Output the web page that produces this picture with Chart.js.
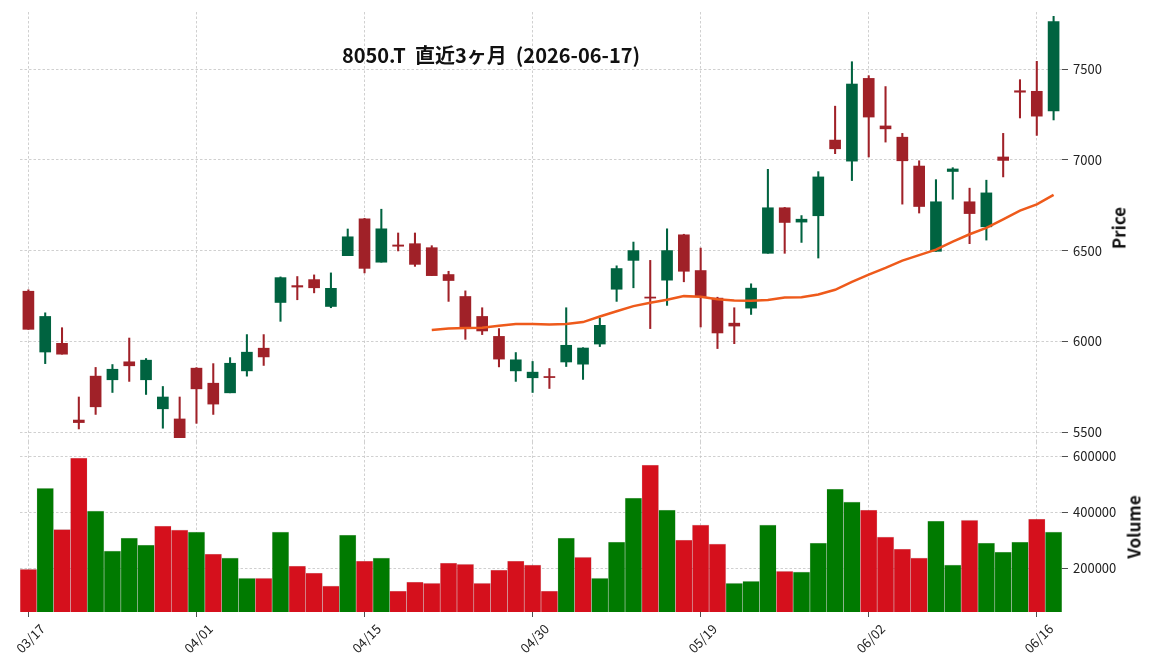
<!DOCTYPE html>
<html>
<head>
<meta charset="utf-8">
<script src="https://cdn.jsdelivr.net/npm/chart.js@4.4.1/dist/chart.umd.min.js"></script>
<style>
    body { margin: 0; background: #fff; }
    #wrap { position: relative; width: 1152px; height: 670px; font-family: "Noto Sans CJK JP", sans-serif; color: #111; }
    #priceChart { position: absolute; left: 0; top: 0; }
    #volumeChart { position: absolute; left: 0; top: 442px; }
    #title { position: absolute; left: 291px; top: 42px; width: 400px; text-align: center; font-size: 20px; line-height: 26px; font-weight: bold; white-space: pre; }
    .axisTitle { position: absolute; font-size: 17px; font-weight: bold; white-space: nowrap; transform: translate(-50%, -50%) rotate(-90deg); }
</style>
</head>
<body>
<div id="wrap">
    <canvas id="priceChart" width="1152" height="442"></canvas>
    <canvas id="volumeChart" width="1152" height="228"></canvas>
    <div id="title">8050.T  直近3ヶ月  (2026-06-17)</div>
    <div class="axisTitle" style="left:1118px; top:228px;">Price</div>
    <div class="axisTitle" style="left:1133px; top:527px;">Volume</div>
</div>
<script>
// trading days shown on the x axis
const dates = ['03/17', '03/18', '03/19', '03/23', '03/24', '03/25', '03/26', '03/27', '03/30', '03/31',
    '04/01', '04/02', '04/03', '04/06', '04/07', '04/08', '04/09', '04/10', '04/13', '04/14',
    '04/15', '04/16', '04/17', '04/20', '04/21', '04/22', '04/23', '04/24', '04/27', '04/28',
    '04/30', '05/01', '05/07', '05/08', '05/11', '05/12', '05/13', '05/14', '05/15', '05/18',
    '05/19', '05/20', '05/21', '05/22', '05/25', '05/26', '05/27', '05/28', '05/29', '06/01',
    '06/02', '06/03', '06/04', '06/05', '06/08', '06/09', '06/10', '06/11', '06/12', '06/15',
    '06/16', '06/17'];

const openPrices = [6276, 5941, 5989, 5566, 5808, 5788, 5887, 5788, 5628, 5572,
    5852, 5769, 5716, 5837, 5962, 6214, 6307, 6340, 6192, 6472,
    6675, 6436, 6531, 6538, 6516, 6368, 6247, 6137, 6027, 5837,
    5799, 5806, 5886, 5874, 5985, 6287, 6446, 6244, 6337, 6587,
    6390, 6238, 6100, 6183, 6485, 6736, 6657, 6692, 7109, 6993,
    7449, 7187, 7125, 6966, 6496, 6936, 6769, 6631, 7016, 7381,
    7378, 7270];
const highPrices = [6284, 6157, 6075, 5693, 5856, 5872, 6018, 5905, 5751, 5693,
    5855, 5877, 5910, 6037, 6037, 6355, 6357, 6366, 6377, 6619,
    6678, 6728, 6597, 6597, 6527, 6386, 6278, 6185, 6070, 5938,
    5889, 5850, 6185, 5965, 6128, 6416, 6547, 6446, 6620, 6590,
    6514, 6243, 6185, 6317, 6948, 6738, 6693, 6935, 7296, 7541,
    7464, 7404, 7146, 6995, 6891, 6957, 6844, 6888, 7146, 7442,
    7543, 7791];
const lowPrices = [6066, 5877, 5929, 5517, 5597, 5718, 5779, 5707, 5521, 5469,
    5548, 5597, 5716, 5808, 5867, 6110, 6229, 6267, 6185, 6472,
    6377, 6436, 6498, 6413, 6362, 6220, 6011, 6037, 5859, 5779,
    5718, 5740, 5861, 5790, 5971, 6220, 6295, 6070, 6198, 6328,
    6079, 5960, 5987, 6148, 6485, 6485, 6545, 6459, 7034, 6886,
    7016, 7098, 6756, 6707, 6496, 6783, 6538, 6558, 6906, 7231,
    7135, 7220];
const closePrices = [6066, 6137, 5929, 5552, 5639, 5846, 5865, 5896, 5693, 5469,
    5738, 5654, 5879, 5940, 5914, 6351, 6299, 6295, 6292, 6576,
    6402, 6620, 6524, 6424, 6362, 6335, 6077, 6057, 5902, 5898,
    5830, 5800, 5978, 5963, 6088, 6401, 6500, 6238, 6500, 6386,
    6247, 6046, 6084, 6293, 6736, 6655, 6673, 6906, 7061, 7418,
    7236, 7171, 6995, 6743, 6769, 6950, 6704, 6818, 6997, 7373,
    7241, 7762];

// moving average, starts on the 25th day
const movingAvg = [null, null, null, null, null, null, null, null, null, null,
    null, null, null, null, null, null, null, null, null, null,
    null, null, null, null, 6062, 6070, 6073, 6075, 6086, 6095,
    6095, 6093, 6095, 6106, 6137, 6166, 6194, 6212, 6229, 6249,
    6245, 6232, 6225, 6223, 6228, 6242, 6243, 6258, 6284, 6328,
    6368, 6405, 6445, 6475, 6505, 6550, 6590, 6625, 6672, 6720,
    6755, 6807];

const volumes = [196000, 485000, 338000, 593000, 404000, 261000, 307000, 282000, 350000, 336000,
    329000, 250000, 236000, 164000, 164000, 329000, 207000, 182000, 136000, 318000,
    225000, 236000, 118000, 150000, 146000, 218000, 214000, 146000, 193000, 225000,
    211000, 118000, 307000, 239000, 164000, 293000, 450000, 568000, 407000, 300000,
    354000, 286000, 146000, 153000, 354000, 189000, 186000, 289000, 482000, 436000,
    407000, 311000, 268000, 236000, 368000, 211000, 371000, 289000, 257000, 293000,
    375000, 329000];

const priceTickValues = [5500, 6000, 6500, 7000, 7500];
const volumeTickValues = [200000, 400000, 600000];
const priceRange = [5445, 7815];
const volumeRange = [43000, 650000];

const fontFamily = '"Noto Sans CJK JP", sans-serif';
const gridColor = '#c4c4c4';

// candles: up green, down red; volume: close vs previous close
const candleColors = closePrices.map((c, i) => c >= openPrices[i] ? '#006340' : '#a02128');
const volumeColors = closePrices.map((c, i) => {
    const ref = i === 0 ? openPrices[0] : closePrices[i - 1];
    return c >= ref ? '#007a00' : '#d5101c';
});

function xGridColor(ctx) {
    return ctx.index % 10 === 0 ? gridColor : 'rgba(0,0,0,0)';
}

function xTickColor(ctx) {
    return ctx.index % 10 === 0 ? '#222' : 'rgba(0,0,0,0)';
}

// no extra padding from tick labels, the plot areas are set by hand
function noPadding(scale) {
    scale.paddingTop = 0;
    scale.paddingBottom = 0;
    scale.paddingLeft = 0;
    scale.paddingRight = 0;
}

function yAxis(range, tickValues, fit) {
    return {
        position: 'right',
        min: range[0],
        max: range[1],
        afterBuildTicks: scale => { scale.ticks = tickValues.map(v => ({ value: v })); },
        ticks: {
            callback: v => String(v),
            font: { family: fontFamily, size: 13 },
            color: '#222',
            padding: 5
        },
        grid: { color: gridColor, lineWidth: 0.8, tickLength: 6, tickColor: '#222', tickBorderDash: [] },
        border: { display: false, dash: [2.5, 2] },
        afterFit: scale => { scale.width = fit; noPadding(scale); }
    };
}

function gerarGraficoPreco() {
    const ctx = document.getElementById('priceChart').getContext('2d');
    new Chart(ctx, {
        type: 'bar',
        data: {
            labels: dates,
            datasets: [{
                type: 'line',
                data: movingAvg,
                borderColor: '#ee5a1b',
                borderWidth: 2.5,
                pointRadius: 0,
                tension: 0,
                order: 0
            }, {
                data: openPrices.map((o, i) => [o, closePrices[i]]),
                backgroundColor: candleColors,
                barThickness: 11,
                grouped: false,
                order: 1
            }, {
                data: lowPrices.map((l, i) => [l, highPrices[i]]),
                backgroundColor: candleColors,
                barThickness: 1.4,
                grouped: false,
                order: 2
            }]
        },
        options: {
            responsive: false,
            animation: false,
            layout: { autoPadding: false, padding: { left: 20, top: 12, right: 0, bottom: 0 } },
            plugins: { legend: { display: false }, tooltip: { enabled: false } },
            scales: {
                x: {
                    type: 'category',
                    offset: true,
                    ticks: { display: false, autoSkip: false },
                    grid: { offset: false, color: xGridColor, lineWidth: 0.8, drawTicks: false },
                    border: { display: false, dash: [2.5, 2] },
                    afterFit: scale => { scale.height = 0; noPadding(scale); }
                },
                y: yAxis(priceRange, priceTickValues, 90)
            }
        }
    });
}

function gerarGraficoVolume() {
    const ctx = document.getElementById('volumeChart').getContext('2d');
    new Chart(ctx, {
        type: 'bar',
        data: {
            labels: dates,
            datasets: [{
                data: volumes,
                backgroundColor: volumeColors,
                borderColor: 'rgba(0,0,0,0.12)',
                borderWidth: 0.6,
                barPercentage: 1,
                categoryPercentage: 1
            }]
        },
        options: {
            responsive: false,
            animation: false,
            layout: { autoPadding: false, padding: { left: 20, top: 0, right: 0, bottom: 0 } },
            plugins: { legend: { display: false }, tooltip: { enabled: false } },
            scales: {
                x: {
                    type: 'category',
                    offset: true,
                    ticks: {
                        autoSkip: false,
                        minRotation: 45,
                        maxRotation: 45,
                        labelOffset: 14,
                        padding: 4,
                        font: { family: fontFamily, size: 13 },
                        color: '#222',
                        callback: (v, i) => i % 10 === 0 ? dates[i] : ''
                    },
                    grid: { offset: false, color: xGridColor, lineWidth: 0.8, tickLength: 5, tickColor: xTickColor, tickBorderDash: [] },
                    border: { display: false, dash: [2.5, 2] },
                    afterFit: scale => { scale.height = 58; noPadding(scale); }
                },
                y: yAxis(volumeRange, volumeTickValues, 90)
            }
        }
    });
}

gerarGraficoPreco();
gerarGraficoVolume();
</script>
</body>
</html>
